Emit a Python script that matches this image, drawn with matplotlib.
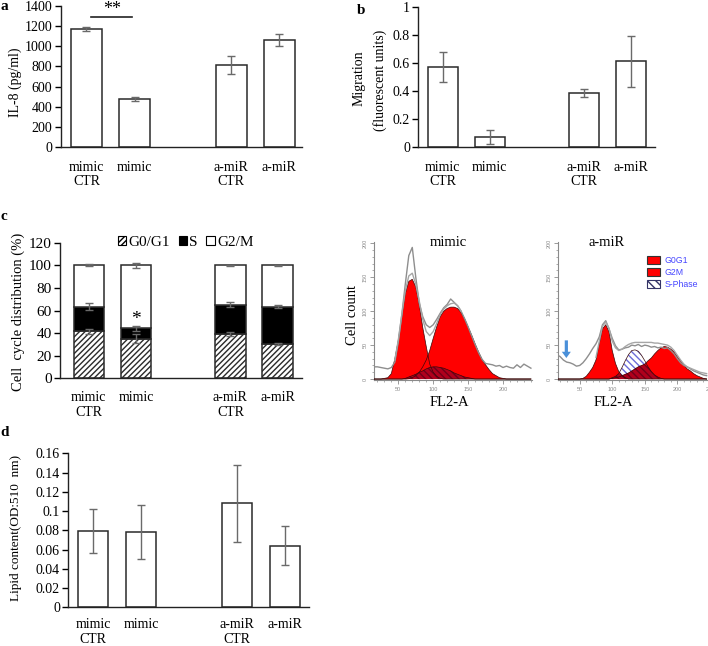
import numpy as np
import matplotlib
matplotlib.use('Agg')
import matplotlib.pyplot as plt
from matplotlib.patches import Patch
from matplotlib.ticker import FuncFormatter, MultipleLocator

plt.rcParams['font.family'] = ['Liberation Serif', 'DejaVu Serif']
plt.rcParams['hatch.linewidth'] = 1.0

# ---------------- data ----------------
groups = ['mimic\nCTR', 'mimic', 'a-miR\nCTR', 'a-miR']
xpos = [0, 1, 3, 4]

il8 = [1175, 478, 818, 1060]
il8_err = [20, 18, 90, 60]

migration = [0.57, 0.07, 0.385, 0.61]
migration_err = [0.11, 0.05, 0.03, 0.18]

g0g1 = [41.5, 34.8, 39.0, 30.3]
g0g1_err = [2.5, 4.0, 2.0, 1.0]
s_phase = [21.9, 9.4, 26.1, 33.1]
s_err = [3.0, 2.0, 2.0, 1.5]
g2m = [36.6, 55.8, 34.9, 36.6]
g2m_err = [1.0, 2.0, 0.5, 0.5]

lipid = [0.079, 0.078, 0.108, 0.064]
lipid_err = [0.023, 0.028, 0.040, 0.020]

# flow cytometry histograms (FL2-A channel, read every 5 units)
mimic_x = np.arange(15, 245, 5)
mimic_g0g1 = [0, 0, 0, 1, 2, 8, 30, 57, 92, 126, 144, 147, 136, 110, 76, 48, 22, 10, 4, 1,
              0, 0, 0, 0, 0, 0, 0, 0, 0, 0, 0, 0, 0, 0, 0, 0, 0, 0, 0, 0, 0, 0, 0, 0, 0, 0]
mimic_g2m = [0, 0, 0, 0, 0, 0, 0, 0, 0, 0, 0.5, 2, 5, 10, 18, 28, 42, 60, 77, 92, 100, 104, 106,
             106, 104, 98, 89, 77, 65, 52, 40, 29, 21, 14, 8, 5, 2, 1, 0, 0, 0, 0, 0, 0, 0, 0]
mimic_s = [0, 0, 0, 0, 0, 0, 0, 0, 0, 1, 3, 5, 7, 10, 12, 15, 17, 18, 18, 17, 16, 14, 12, 9, 7,
           5, 3, 2, 1, 0, 0, 0, 0, 0, 0, 0, 0, 0, 0, 0, 0, 0, 0, 0, 0, 0]
mimic_data = [18, 18, 17, 16, 15, 17, 25, 55, 95, 140, 182, 194, 150, 112, 92, 80, 76, 80, 88, 97,
              105, 110, 118, 113, 108, 100, 89, 77, 64, 51, 39, 29, 23, 22, 21, 19, 20, 17, 19,
              17, 16, 21, 17, 22, 19, 16]
mimic_fit_x = np.arange(45, 145, 5)
mimic_fit = [28, 58, 95, 130, 152, 156, 140, 115, 88, 70, 64, 70, 82, 95, 103, 108, 111, 112,
             108, 100]

amir_x = np.arange(15, 250, 5)
amir_g0g1 = [0, 0, 0, 0, 0, 0, 0, 0, 1, 4, 10, 17, 28, 52, 74, 80, 70, 42, 23, 11, 5, 2, 0,
             0, 0, 0, 0, 0, 0, 0, 0, 0, 0, 0, 0, 0, 0, 0, 0, 0, 0, 0, 0, 0, 0, 0, 0]
amir_g2m = [0, 0, 0, 0, 0, 0, 0, 0, 0, 0, 0, 0, 0, 0, 0, 0, 0, 1, 2, 3, 5, 7, 9, 12, 15, 18,
            20, 22, 27, 31, 37, 42, 46, 48, 47, 44, 40, 33, 27, 21, 15, 12, 8, 5, 3, 1, 0]
amir_s = [0, 0, 0, 0, 0, 0, 0, 0, 0, 0, 0, 0, 0, 0, 0, 0, 0, 2, 4, 8, 17, 27, 36, 42, 43, 41,
          35, 27, 18, 11, 6, 3, 1, 0, 0, 0, 0, 0, 0, 0, 0, 0, 0, 0, 0, 0, 0]
amir_data = [36, 33, 28, 25, 24, 22, 19, 20, 24, 30, 37, 45, 52, 62, 80, 86, 74, 60, 49, 43, 44,
             46, 47, 50, 49, 51, 48, 50, 49, 47, 48, 46, 47, 45, 46, 42, 37, 30, 24, 20, 18, 15,
             12, 10, 8, 6, 5]
amir_fit_x = np.arange(75, 250, 5)
amir_fit = [32, 55, 78, 84, 75, 56, 46, 42, 44, 48, 51, 53, 54, 54, 54, 54, 54, 54, 53, 53, 52,
            51, 50, 47, 42, 35, 28, 22, 18, 16, 14, 12, 10, 9, 8]
arrow_x = 29.5
arrow_y = (57, 31)

# ---------------- layout ----------------
W, H = 708, 646
fig = plt.figure(figsize=(W / 100, H / 100), dpi=100)


def rect(l, r, t, b):
    return [l / W, 1 - b / H, (r - l) / W, (b - t) / H]


def ftext(x, y, s, **kw):
    fig.text(x / W, 1 - y / H, s, ha='center', va='center', **kw)


ERR = '#6a6a6a'
EDGE = '#2a2a2a'
fmt_g = FuncFormatter(lambda v, p: f'{v:g}')


def style_bar_ax(ax, xlim, ylim, yticks, ysize, xpad):
    for s in ['top', 'right']:
        ax.spines[s].set_visible(False)
    for s in ['left', 'bottom']:
        ax.spines[s].set_linewidth(1.0)
        ax.spines[s].set_color('#222222')
    ax.set_xlim(*xlim)
    ax.set_ylim(*ylim)
    ax.set_yticks(yticks)
    ax.yaxis.set_major_formatter(fmt_g)
    ax.set_xticks(xpos)
    ax.set_xticklabels(groups, linespacing=1.15)
    ax.tick_params(axis='x', length=0, pad=xpad, labelsize=10)
    ax.tick_params(axis='y', length=4, width=1, direction='out', labelsize=ysize, pad=2)


def simple_bars(ax, vals, errs, width):
    ax.bar(xpos, vals, width=width, color='white', edgecolor=EDGE, linewidth=1.1, zorder=2)
    ax.errorbar(xpos, vals, yerr=errs, fmt='none', ecolor=ERR, elinewidth=1.0,
                capsize=2.6, capthick=1.0, zorder=3)


# panel a
ax_a = fig.add_axes(rect(60.7, 302, 6, 147))
simple_bars(ax_a, il8, il8_err, 0.64)
style_bar_ax(ax_a, (-0.535, 4.47), (0, 1400), np.arange(0, 1401, 200), 10, 10)
ax_a.plot([xpos[0] + 0.09, xpos[1] - 0.06], [1291, 1291], color='#222222', lw=1.2, clip_on=False)
ax_a.text((xpos[0] + xpos[1]) / 2 + 0.03, 1362, '**', ha='center', va='center', fontsize=13,
          clip_on=False)
ftext(15, 82.5, 'IL-8 (pg/ml)', rotation=90, fontsize=10)
ftext(4, 6, 'a', fontsize=11, fontweight='bold')

# panel b
ax_b = fig.add_axes(rect(418.3, 655, 6.7, 147))
simple_bars(ax_b, migration, migration_err, 0.64)
style_bar_ax(ax_b, (-0.52, 4.51), (0, 1), np.arange(0, 1.01, 0.2), 10, 10)
ftext(359, 78, 'Migration', rotation=90, fontsize=10)
ftext(380, 80, '(fluorescent units)', rotation=90, fontsize=10)
ftext(361, 10, 'b', fontsize=11, fontweight='bold')

# panel c (stacked)
ax_c = fig.add_axes(rect(60, 301.7, 242.7, 378.3))
bw = 0.645
ax_c.bar(xpos, g0g1, width=bw, color='white', edgecolor=EDGE, hatch='//////', linewidth=1.1,
         zorder=2)
ax_c.bar(xpos, s_phase, bottom=g0g1, width=bw, color='black', edgecolor=EDGE, linewidth=1.1,
         zorder=2)
tops_s = np.array(g0g1) + np.array(s_phase)
ax_c.bar(xpos, g2m, bottom=tops_s, width=bw, color='white', edgecolor=EDGE, linewidth=1.1,
         zorder=2)
for tops, errs in [(np.array(g0g1), g0g1_err), (tops_s, s_err), (tops_s + np.array(g2m), g2m_err)]:
    ax_c.errorbar(xpos, tops, yerr=errs, fmt='none', ecolor=ERR, elinewidth=1.0, capsize=2.6,
                  capthick=1.0, zorder=3)
style_bar_ax(ax_c, (-0.61, 4.51), (0, 120), np.arange(0, 121, 20), 11, 9.5)
ax_c.text(xpos[1], 52, '*', ha='center', va='center', fontsize=14)
leg_handles = [Patch(facecolor='white', edgecolor='black', hatch='//////', linewidth=0.8),
               Patch(facecolor='black', edgecolor='black', linewidth=0.8),
               Patch(facecolor='white', edgecolor='black', linewidth=0.8)]
ax_c.legend(leg_handles, ['G0/G1', 'S', 'G2/M'], ncol=3, loc='center',
            bbox_to_anchor=(0.52, 1.0), frameon=False, fontsize=11, handlelength=0.55,
            handleheight=0.55, handletextpad=0.15, columnspacing=0.55, borderpad=0)
ftext(18, 312, 'Cell  cycle distribution (%)', rotation=90, fontsize=10.5)
ftext(4, 216, 'c', fontsize=11, fontweight='bold')

# panel d
ax_d = fig.add_axes(rect(68.3, 309, 453.3, 607.3))
simple_bars(ax_d, lipid, lipid_err, 0.63)
style_bar_ax(ax_d, (-0.52, 4.51), (0, 0.16), np.arange(0, 0.161, 0.02), 10, 8)
ftext(16, 528, 'Lipid content(OD:510  nm)', rotation=90, fontsize=9.5)
ftext(5, 432, 'd', fontsize=11, fontweight='bold')

# ---------------- flow histograms ----------------
RED = '#ff0000'
SBLUE = '#6c6cd8'


def hist_panel(ax, x, g0, g2, s, data, fit_x, fit, xlim, xticks):
    x = np.asarray(x, float)
    g0 = np.asarray(g0, float)
    g2 = np.asarray(g2, float)
    s = np.asarray(s, float)
    ax.fill_between(x, s, facecolor='white', edgecolor=SBLUE, hatch='\\\\\\\\\\', linewidth=0,
                    zorder=1)
    ax.fill_between(x, g0, facecolor=RED, edgecolor='none', linewidth=0, zorder=2)
    ax.fill_between(x, g2, facecolor=RED, edgecolor='none', linewidth=0, zorder=2)
    overlap = np.minimum(s, np.maximum(g0, g2))
    ax.fill_between(x, overlap, facecolor='#b0001c', edgecolor='#6e0018', hatch='\\\\\\\\\\',
                    linewidth=0, zorder=3)
    for comp in (g0, g2, s):
        ax.plot(x, comp, color='#3a0a0a', lw=0.5, zorder=4)
    ax.plot(x, data, color='#8e8e8e', lw=1.0, zorder=5)
    ax.plot(fit_x, fit, color='#a6a6a6', lw=1.0, zorder=5)
    for sp in ['top', 'right']:
        ax.spines[sp].set_visible(False)
    for sp in ['left', 'bottom']:
        ax.spines[sp].set_color('#8a8a8a')
        ax.spines[sp].set_linewidth(0.8)
    ax.set_xlim(*xlim)
    ax.set_ylim(-2, 202)
    ax.set_xticks(xticks)
    ax.set_yticks([0, 50, 100, 150, 200])
    ax.xaxis.set_minor_locator(MultipleLocator(10))
    ax.yaxis.set_minor_locator(MultipleLocator(10))
    ax.tick_params(which='major', length=3, width=0.6, color='#8a8a8a', labelsize=4,
                   labelcolor='#8a8a8a', pad=1.5, labelfontfamily='Liberation Sans')
    ax.tick_params(which='minor', length=1.5, width=0.5, color='#8a8a8a')
    ax.tick_params(axis='y', labelrotation=90)
    for lab in ax.get_yticklabels():
        lab.set_va('center')


ax_m = fig.add_axes(rect(373.9, 532.3, 242, 380.4))
hist_panel(ax_m, mimic_x, mimic_g0g1, mimic_g2m, mimic_s, mimic_data, mimic_fit_x, mimic_fit,
           (15, 242), [50, 100, 150, 200])

ax_r = fig.add_axes(rect(558.2, 709.9, 242, 380.4))
hist_panel(ax_r, amir_x, amir_g0g1, amir_g2m, amir_s, amir_data, amir_fit_x, amir_fit,
           (17, 250), [50, 100, 150, 200, 250])
ax_r.annotate('', xy=(arrow_x, arrow_y[1]), xytext=(arrow_x, arrow_y[0]),
              arrowprops=dict(facecolor='#4a90d9', edgecolor='none', width=2.3, headwidth=6.5,
                              headlength=4.5, shrink=0))
h_leg = [Patch(facecolor=RED, edgecolor='#333333', linewidth=0.8),
         Patch(facecolor=RED, edgecolor='#333333', linewidth=0.8),
         Patch(facecolor='white', edgecolor='#333366', hatch='\\\\\\\\', linewidth=0.8)]
ax_r.legend(h_leg, ['G0G1', 'G2M', 'S-Phase'], loc='upper left', bbox_to_anchor=(0.585, 0.9),
            frameon=False, prop={'family': 'Liberation Sans', 'size': 6.3},
            labelcolor='#4646ff', handlelength=1.5, handleheight=1.0, handletextpad=0.5,
            labelspacing=0.35, borderpad=0, borderaxespad=0)

ftext(448, 242, 'mimic', fontsize=10.5)
ftext(606.7, 242, 'a-miR', fontsize=10.5)
ftext(449, 402, 'FL2-A', fontsize=10.5)
ftext(613, 402, 'FL2-A', fontsize=10.5)
ftext(353, 315, 'Cell count', rotation=90, fontsize=10.5)

fig.savefig('out.png', dpi=100)
